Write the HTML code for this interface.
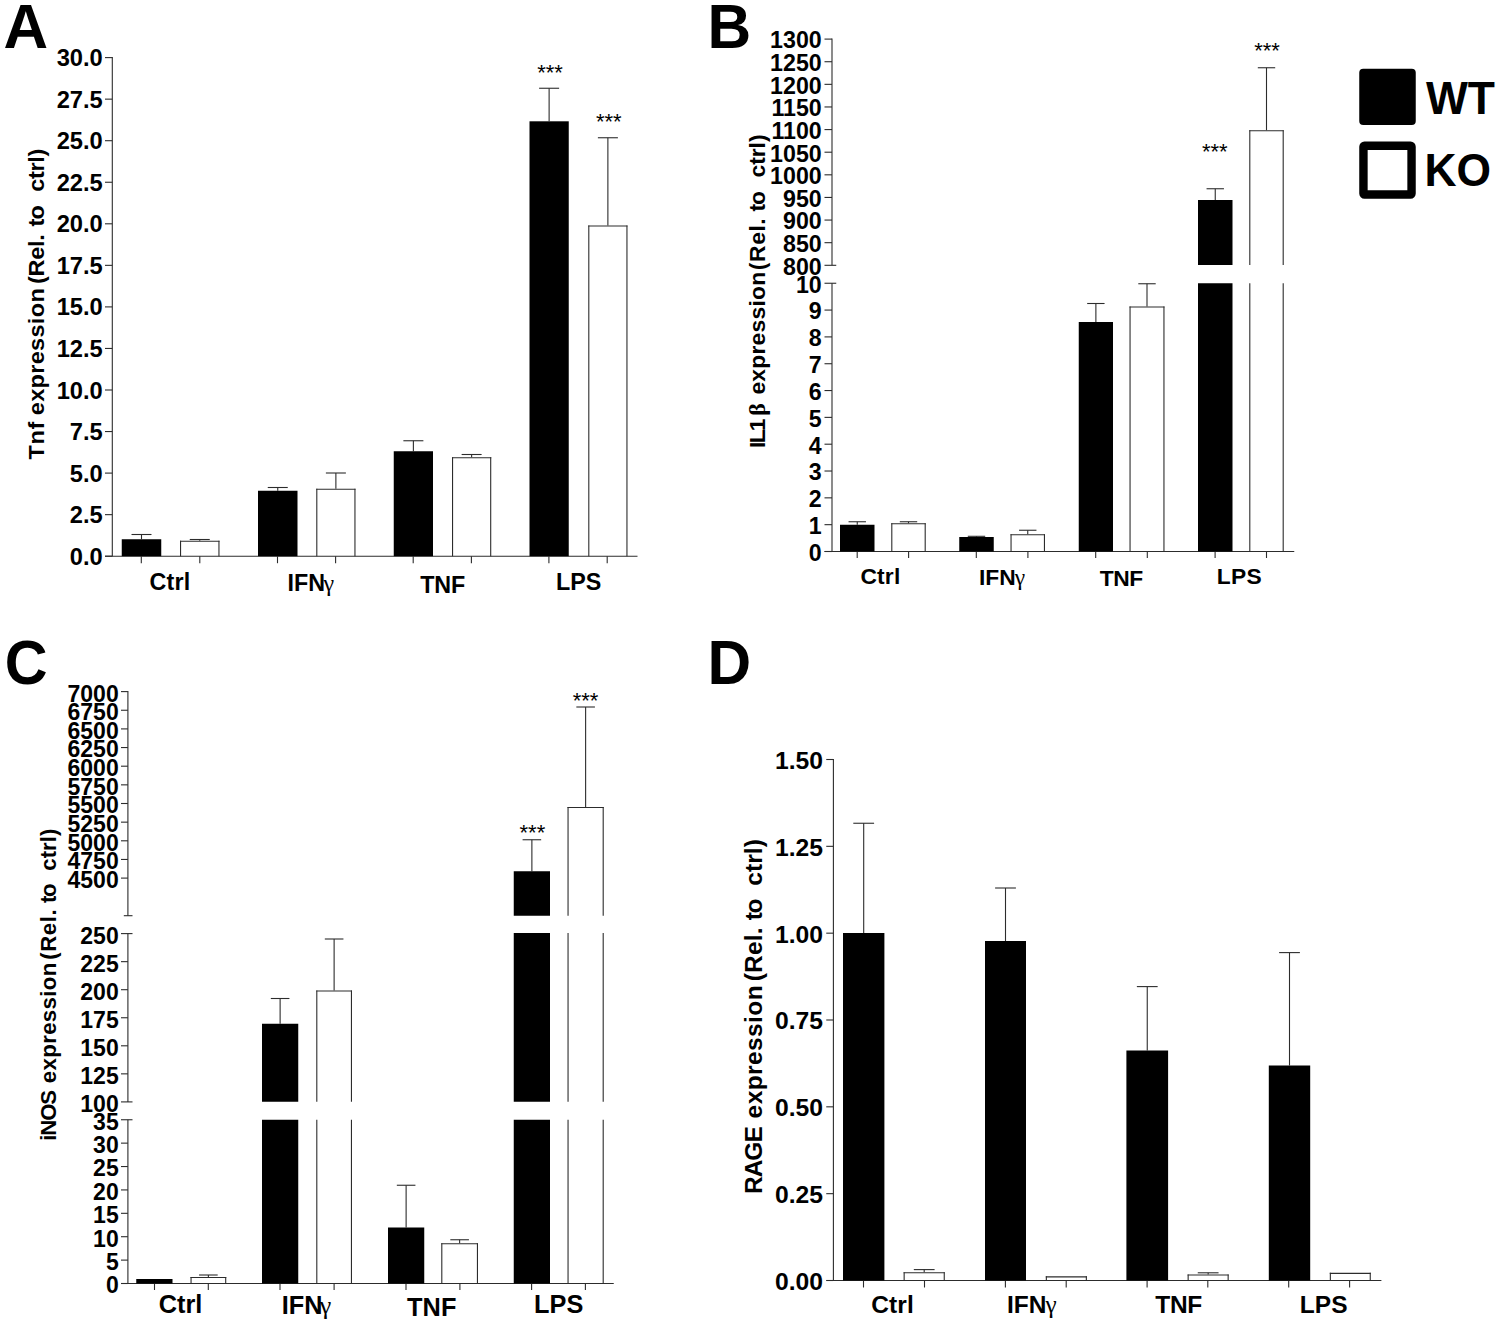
<!DOCTYPE html>
<html><head><meta charset="utf-8"><title>Figure</title>
<style>
html,body{margin:0;padding:0;background:#fff;}
body{width:1500px;height:1325px;overflow:hidden;font-family:"Liberation Sans",sans-serif;}
svg{display:block;}
svg text{font-family:"Liberation Sans",sans-serif;fill:#000;}
</style></head><body>
<svg width="1500" height="1325" viewBox="0 0 1500 1325">
<rect x="0" y="0" width="1500" height="1325" fill="#fff"/>
<text transform="translate(3.60,48.00) scale(0.97,1)" font-size="63.7" font-weight="bold">A</text>
<text transform="translate(707.60,48.20) scale(0.95,1)" font-size="63.7" font-weight="bold">B</text>
<text transform="translate(4.70,683.90) scale(0.93,1)" font-size="63.7" font-weight="bold">C</text>
<text transform="translate(707.60,683.90) scale(0.95,1)" font-size="63.7" font-weight="bold">D</text>
<line x1="112.30" y1="57.05" x2="112.30" y2="556.20" stroke="#2c2c2c" stroke-width="1.1"/>
<line x1="105.00" y1="57.60" x2="112.30" y2="57.60" stroke="#2c2c2c" stroke-width="1.1"/>
<text x="102.80" y="66.10" font-size="23.7" font-weight="bold" text-anchor="end" >30.0</text>
<line x1="105.00" y1="99.15" x2="112.30" y2="99.15" stroke="#2c2c2c" stroke-width="1.1"/>
<text x="102.80" y="107.65" font-size="23.7" font-weight="bold" text-anchor="end" >27.5</text>
<line x1="105.00" y1="140.70" x2="112.30" y2="140.70" stroke="#2c2c2c" stroke-width="1.1"/>
<text x="102.80" y="149.20" font-size="23.7" font-weight="bold" text-anchor="end" >25.0</text>
<line x1="105.00" y1="182.25" x2="112.30" y2="182.25" stroke="#2c2c2c" stroke-width="1.1"/>
<text x="102.80" y="190.75" font-size="23.7" font-weight="bold" text-anchor="end" >22.5</text>
<line x1="105.00" y1="223.80" x2="112.30" y2="223.80" stroke="#2c2c2c" stroke-width="1.1"/>
<text x="102.80" y="232.30" font-size="23.7" font-weight="bold" text-anchor="end" >20.0</text>
<line x1="105.00" y1="265.35" x2="112.30" y2="265.35" stroke="#2c2c2c" stroke-width="1.1"/>
<text x="102.80" y="273.85" font-size="23.7" font-weight="bold" text-anchor="end" >17.5</text>
<line x1="105.00" y1="306.90" x2="112.30" y2="306.90" stroke="#2c2c2c" stroke-width="1.1"/>
<text x="102.80" y="315.40" font-size="23.7" font-weight="bold" text-anchor="end" >15.0</text>
<line x1="105.00" y1="348.45" x2="112.30" y2="348.45" stroke="#2c2c2c" stroke-width="1.1"/>
<text x="102.80" y="356.95" font-size="23.7" font-weight="bold" text-anchor="end" >12.5</text>
<line x1="105.00" y1="390.00" x2="112.30" y2="390.00" stroke="#2c2c2c" stroke-width="1.1"/>
<text x="102.80" y="398.50" font-size="23.7" font-weight="bold" text-anchor="end" >10.0</text>
<line x1="105.00" y1="431.55" x2="112.30" y2="431.55" stroke="#2c2c2c" stroke-width="1.1"/>
<text x="102.80" y="440.05" font-size="23.7" font-weight="bold" text-anchor="end" >7.5</text>
<line x1="105.00" y1="473.10" x2="112.30" y2="473.10" stroke="#2c2c2c" stroke-width="1.1"/>
<text x="102.80" y="481.60" font-size="23.7" font-weight="bold" text-anchor="end" >5.0</text>
<line x1="105.00" y1="514.65" x2="112.30" y2="514.65" stroke="#2c2c2c" stroke-width="1.1"/>
<text x="102.80" y="523.15" font-size="23.7" font-weight="bold" text-anchor="end" >2.5</text>
<line x1="105.00" y1="556.20" x2="112.30" y2="556.20" stroke="#2c2c2c" stroke-width="1.1"/>
<text x="102.80" y="564.70" font-size="23.7" font-weight="bold" text-anchor="end" >0.0</text>
<line x1="105.00" y1="556.20" x2="637.50" y2="556.20" stroke="#2c2c2c" stroke-width="1.1"/>
<line x1="141.30" y1="556.20" x2="141.30" y2="563.20" stroke="#2c2c2c" stroke-width="1.1"/>
<line x1="199.80" y1="556.20" x2="199.80" y2="563.20" stroke="#2c2c2c" stroke-width="1.1"/>
<line x1="277.50" y1="556.20" x2="277.50" y2="563.20" stroke="#2c2c2c" stroke-width="1.1"/>
<line x1="335.60" y1="556.20" x2="335.60" y2="563.20" stroke="#2c2c2c" stroke-width="1.1"/>
<line x1="413.20" y1="556.20" x2="413.20" y2="563.20" stroke="#2c2c2c" stroke-width="1.1"/>
<line x1="471.40" y1="556.20" x2="471.40" y2="563.20" stroke="#2c2c2c" stroke-width="1.1"/>
<line x1="548.90" y1="556.20" x2="548.90" y2="563.20" stroke="#2c2c2c" stroke-width="1.1"/>
<line x1="607.20" y1="556.20" x2="607.20" y2="563.20" stroke="#2c2c2c" stroke-width="1.1"/>
<line x1="141.50" y1="534.50" x2="141.50" y2="539.25" stroke="#2c2c2c" stroke-width="1.1"/>
<line x1="131.50" y1="534.50" x2="151.50" y2="534.50" stroke="#2c2c2c" stroke-width="1.1"/>
<rect x="121.75" y="539.25" width="39.50" height="16.95" fill="#000"/>
<line x1="199.75" y1="539.50" x2="199.75" y2="540.75" stroke="#2c2c2c" stroke-width="1.1"/>
<line x1="189.75" y1="539.50" x2="209.75" y2="539.50" stroke="#2c2c2c" stroke-width="1.1"/>
<line x1="180.00" y1="541.30" x2="219.50" y2="541.30" stroke="#2c2c2c" stroke-width="1.1"/>
<line x1="180.55" y1="540.75" x2="180.55" y2="556.20" stroke="#2c2c2c" stroke-width="1.1"/>
<line x1="218.95" y1="540.75" x2="218.95" y2="556.20" stroke="#2c2c2c" stroke-width="1.1"/>
<line x1="277.75" y1="487.50" x2="277.75" y2="490.75" stroke="#2c2c2c" stroke-width="1.1"/>
<line x1="267.75" y1="487.50" x2="287.75" y2="487.50" stroke="#2c2c2c" stroke-width="1.1"/>
<rect x="258.00" y="490.75" width="39.50" height="65.45" fill="#000"/>
<line x1="335.88" y1="473.00" x2="335.88" y2="488.75" stroke="#2c2c2c" stroke-width="1.1"/>
<line x1="325.88" y1="473.00" x2="345.88" y2="473.00" stroke="#2c2c2c" stroke-width="1.1"/>
<line x1="316.25" y1="489.30" x2="355.50" y2="489.30" stroke="#2c2c2c" stroke-width="1.1"/>
<line x1="316.80" y1="488.75" x2="316.80" y2="556.20" stroke="#2c2c2c" stroke-width="1.1"/>
<line x1="354.95" y1="488.75" x2="354.95" y2="556.20" stroke="#2c2c2c" stroke-width="1.1"/>
<line x1="413.38" y1="440.75" x2="413.38" y2="451.25" stroke="#2c2c2c" stroke-width="1.1"/>
<line x1="403.38" y1="440.75" x2="423.38" y2="440.75" stroke="#2c2c2c" stroke-width="1.1"/>
<rect x="393.75" y="451.25" width="39.25" height="104.95" fill="#000"/>
<line x1="471.62" y1="454.50" x2="471.62" y2="457.25" stroke="#2c2c2c" stroke-width="1.1"/>
<line x1="461.62" y1="454.50" x2="481.62" y2="454.50" stroke="#2c2c2c" stroke-width="1.1"/>
<line x1="452.00" y1="457.80" x2="491.25" y2="457.80" stroke="#2c2c2c" stroke-width="1.1"/>
<line x1="452.55" y1="457.25" x2="452.55" y2="556.20" stroke="#2c2c2c" stroke-width="1.1"/>
<line x1="490.70" y1="457.25" x2="490.70" y2="556.20" stroke="#2c2c2c" stroke-width="1.1"/>
<line x1="549.12" y1="88.25" x2="549.12" y2="121.30" stroke="#2c2c2c" stroke-width="1.1"/>
<line x1="539.12" y1="88.25" x2="559.12" y2="88.25" stroke="#2c2c2c" stroke-width="1.1"/>
<rect x="529.50" y="121.30" width="39.25" height="434.90" fill="#000"/>
<line x1="607.88" y1="137.75" x2="607.88" y2="225.50" stroke="#2c2c2c" stroke-width="1.1"/>
<line x1="597.88" y1="137.75" x2="617.88" y2="137.75" stroke="#2c2c2c" stroke-width="1.1"/>
<line x1="588.25" y1="226.05" x2="627.50" y2="226.05" stroke="#2c2c2c" stroke-width="1.1"/>
<line x1="588.80" y1="225.50" x2="588.80" y2="556.20" stroke="#2c2c2c" stroke-width="1.1"/>
<line x1="626.95" y1="225.50" x2="626.95" y2="556.20" stroke="#2c2c2c" stroke-width="1.1"/>
<text x="550.10" y="79.80" font-size="22" font-weight="normal" text-anchor="middle" >***</text>
<text x="608.80" y="128.80" font-size="22" font-weight="normal" text-anchor="middle" >***</text>
<text x="149.57" y="589.70" font-size="23.3" font-weight="bold" letter-spacing="0.196" >Ctrl</text>
<text x="287.47" y="590.80" font-size="23.3" font-weight="bold" letter-spacing="0.000" >IFN</text>
<text x="323.42" y="590.80" font-size="24.00" font-family="Liberation Serif, serif" style="font-family:'Liberation Serif',serif">γ</text>
<text x="420.27" y="592.50" font-size="23.3" font-weight="bold" letter-spacing="-0.135" >TNF</text>
<text x="556.07" y="589.70" font-size="23.3" font-weight="bold" letter-spacing="-0.019" >LPS</text>
<text transform="translate(43.70,459.44) rotate(-90) scale(1.0526,1)" font-size="22.32" letter-spacing="0.558" font-weight="bold">Tnf</text>
<text transform="translate(43.70,415.24) rotate(-90) scale(1.0526,1)" font-size="22.32" letter-spacing="0.314" font-weight="bold">expression</text>
<text transform="translate(43.70,283.88) rotate(-90) scale(1.0526,1)" font-size="22.32" letter-spacing="-0.303" font-weight="bold">(Rel.</text>
<text transform="translate(43.70,226.53) rotate(-90) scale(1.0526,1)" font-size="22.32" letter-spacing="-0.774" font-weight="bold">to</text>
<text transform="translate(43.70,191.84) rotate(-90) scale(1.0526,1)" font-size="22.32" letter-spacing="-0.285" font-weight="bold">ctrl)</text>
<line x1="832.00" y1="38.55" x2="832.00" y2="265.30" stroke="#2c2c2c" stroke-width="1.1"/>
<line x1="824.50" y1="39.10" x2="832.00" y2="39.10" stroke="#2c2c2c" stroke-width="1.1"/>
<text x="821.70" y="48.40" font-size="23.2" font-weight="bold" text-anchor="end" >1300</text>
<line x1="824.50" y1="61.72" x2="832.00" y2="61.72" stroke="#2c2c2c" stroke-width="1.1"/>
<text x="821.70" y="71.02" font-size="23.2" font-weight="bold" text-anchor="end" >1250</text>
<line x1="824.50" y1="84.34" x2="832.00" y2="84.34" stroke="#2c2c2c" stroke-width="1.1"/>
<text x="821.70" y="93.64" font-size="23.2" font-weight="bold" text-anchor="end" >1200</text>
<line x1="824.50" y1="106.96" x2="832.00" y2="106.96" stroke="#2c2c2c" stroke-width="1.1"/>
<text x="821.70" y="116.26" font-size="23.2" font-weight="bold" text-anchor="end" >1150</text>
<line x1="824.50" y1="129.58" x2="832.00" y2="129.58" stroke="#2c2c2c" stroke-width="1.1"/>
<text x="821.70" y="138.88" font-size="23.2" font-weight="bold" text-anchor="end" >1100</text>
<line x1="824.50" y1="152.20" x2="832.00" y2="152.20" stroke="#2c2c2c" stroke-width="1.1"/>
<text x="821.70" y="161.50" font-size="23.2" font-weight="bold" text-anchor="end" >1050</text>
<line x1="824.50" y1="174.82" x2="832.00" y2="174.82" stroke="#2c2c2c" stroke-width="1.1"/>
<text x="821.70" y="184.12" font-size="23.2" font-weight="bold" text-anchor="end" >1000</text>
<line x1="824.50" y1="197.44" x2="832.00" y2="197.44" stroke="#2c2c2c" stroke-width="1.1"/>
<text x="821.70" y="206.74" font-size="23.2" font-weight="bold" text-anchor="end" >950</text>
<line x1="824.50" y1="220.06" x2="832.00" y2="220.06" stroke="#2c2c2c" stroke-width="1.1"/>
<text x="821.70" y="229.36" font-size="23.2" font-weight="bold" text-anchor="end" >900</text>
<line x1="824.50" y1="242.68" x2="832.00" y2="242.68" stroke="#2c2c2c" stroke-width="1.1"/>
<text x="821.70" y="251.98" font-size="23.2" font-weight="bold" text-anchor="end" >850</text>
<line x1="824.50" y1="265.30" x2="836.25" y2="265.30" stroke="#2c2c2c" stroke-width="1.1"/>
<text x="821.70" y="274.60" font-size="23.2" font-weight="bold" text-anchor="end" >800</text>
<line x1="832.00" y1="283.25" x2="832.00" y2="551.50" stroke="#2c2c2c" stroke-width="1.1"/>
<line x1="824.50" y1="283.25" x2="836.25" y2="283.25" stroke="#2c2c2c" stroke-width="1.1"/>
<text x="821.70" y="292.55" font-size="23.2" font-weight="bold" text-anchor="end" >10</text>
<line x1="824.50" y1="310.07" x2="832.00" y2="310.07" stroke="#2c2c2c" stroke-width="1.1"/>
<text x="821.70" y="319.38" font-size="23.2" font-weight="bold" text-anchor="end" >9</text>
<line x1="824.50" y1="336.90" x2="832.00" y2="336.90" stroke="#2c2c2c" stroke-width="1.1"/>
<text x="821.70" y="346.20" font-size="23.2" font-weight="bold" text-anchor="end" >8</text>
<line x1="824.50" y1="363.73" x2="832.00" y2="363.73" stroke="#2c2c2c" stroke-width="1.1"/>
<text x="821.70" y="373.03" font-size="23.2" font-weight="bold" text-anchor="end" >7</text>
<line x1="824.50" y1="390.55" x2="832.00" y2="390.55" stroke="#2c2c2c" stroke-width="1.1"/>
<text x="821.70" y="399.85" font-size="23.2" font-weight="bold" text-anchor="end" >6</text>
<line x1="824.50" y1="417.38" x2="832.00" y2="417.38" stroke="#2c2c2c" stroke-width="1.1"/>
<text x="821.70" y="426.68" font-size="23.2" font-weight="bold" text-anchor="end" >5</text>
<line x1="824.50" y1="444.20" x2="832.00" y2="444.20" stroke="#2c2c2c" stroke-width="1.1"/>
<text x="821.70" y="453.50" font-size="23.2" font-weight="bold" text-anchor="end" >4</text>
<line x1="824.50" y1="471.02" x2="832.00" y2="471.02" stroke="#2c2c2c" stroke-width="1.1"/>
<text x="821.70" y="480.32" font-size="23.2" font-weight="bold" text-anchor="end" >3</text>
<line x1="824.50" y1="497.85" x2="832.00" y2="497.85" stroke="#2c2c2c" stroke-width="1.1"/>
<text x="821.70" y="507.15" font-size="23.2" font-weight="bold" text-anchor="end" >2</text>
<line x1="824.50" y1="524.67" x2="832.00" y2="524.67" stroke="#2c2c2c" stroke-width="1.1"/>
<text x="821.70" y="533.97" font-size="23.2" font-weight="bold" text-anchor="end" >1</text>
<line x1="824.50" y1="551.50" x2="832.00" y2="551.50" stroke="#2c2c2c" stroke-width="1.1"/>
<text x="821.70" y="560.80" font-size="23.2" font-weight="bold" text-anchor="end" >0</text>
<line x1="824.50" y1="551.50" x2="1294.25" y2="551.50" stroke="#2c2c2c" stroke-width="1.1"/>
<line x1="857.20" y1="551.50" x2="857.20" y2="558.00" stroke="#2c2c2c" stroke-width="1.1"/>
<line x1="908.60" y1="551.50" x2="908.60" y2="558.00" stroke="#2c2c2c" stroke-width="1.1"/>
<line x1="976.30" y1="551.50" x2="976.30" y2="558.00" stroke="#2c2c2c" stroke-width="1.1"/>
<line x1="1027.90" y1="551.50" x2="1027.90" y2="558.00" stroke="#2c2c2c" stroke-width="1.1"/>
<line x1="1095.70" y1="551.50" x2="1095.70" y2="558.00" stroke="#2c2c2c" stroke-width="1.1"/>
<line x1="1147.30" y1="551.50" x2="1147.30" y2="558.00" stroke="#2c2c2c" stroke-width="1.1"/>
<line x1="1215.10" y1="551.50" x2="1215.10" y2="558.00" stroke="#2c2c2c" stroke-width="1.1"/>
<line x1="1266.50" y1="551.50" x2="1266.50" y2="558.00" stroke="#2c2c2c" stroke-width="1.1"/>
<line x1="857.25" y1="521.75" x2="857.25" y2="524.75" stroke="#2c2c2c" stroke-width="1.1"/>
<line x1="848.55" y1="521.75" x2="865.95" y2="521.75" stroke="#2c2c2c" stroke-width="1.1"/>
<rect x="840.00" y="524.75" width="34.50" height="26.75" fill="#000"/>
<line x1="908.50" y1="521.75" x2="908.50" y2="523.25" stroke="#2c2c2c" stroke-width="1.1"/>
<line x1="899.80" y1="521.75" x2="917.20" y2="521.75" stroke="#2c2c2c" stroke-width="1.1"/>
<line x1="891.25" y1="523.80" x2="925.75" y2="523.80" stroke="#2c2c2c" stroke-width="1.1"/>
<line x1="891.80" y1="523.25" x2="891.80" y2="551.50" stroke="#2c2c2c" stroke-width="1.1"/>
<line x1="925.20" y1="523.25" x2="925.20" y2="551.50" stroke="#2c2c2c" stroke-width="1.1"/>
<line x1="976.50" y1="536.30" x2="976.50" y2="537.00" stroke="#2c2c2c" stroke-width="1.1"/>
<line x1="967.80" y1="536.30" x2="985.20" y2="536.30" stroke="#2c2c2c" stroke-width="1.1"/>
<rect x="959.25" y="537.00" width="34.50" height="14.50" fill="#000"/>
<line x1="1027.75" y1="530.25" x2="1027.75" y2="534.25" stroke="#2c2c2c" stroke-width="1.1"/>
<line x1="1019.05" y1="530.25" x2="1036.45" y2="530.25" stroke="#2c2c2c" stroke-width="1.1"/>
<line x1="1010.50" y1="534.80" x2="1045.00" y2="534.80" stroke="#2c2c2c" stroke-width="1.1"/>
<line x1="1011.05" y1="534.25" x2="1011.05" y2="551.50" stroke="#2c2c2c" stroke-width="1.1"/>
<line x1="1044.45" y1="534.25" x2="1044.45" y2="551.50" stroke="#2c2c2c" stroke-width="1.1"/>
<line x1="1095.88" y1="303.50" x2="1095.88" y2="322.00" stroke="#2c2c2c" stroke-width="1.1"/>
<line x1="1087.17" y1="303.50" x2="1104.58" y2="303.50" stroke="#2c2c2c" stroke-width="1.1"/>
<rect x="1078.75" y="322.00" width="34.25" height="229.50" fill="#000"/>
<line x1="1147.00" y1="283.75" x2="1147.00" y2="306.50" stroke="#2c2c2c" stroke-width="1.1"/>
<line x1="1138.30" y1="283.75" x2="1155.70" y2="283.75" stroke="#2c2c2c" stroke-width="1.1"/>
<line x1="1129.50" y1="307.05" x2="1164.50" y2="307.05" stroke="#2c2c2c" stroke-width="1.1"/>
<line x1="1130.05" y1="306.50" x2="1130.05" y2="551.50" stroke="#2c2c2c" stroke-width="1.1"/>
<line x1="1163.95" y1="306.50" x2="1163.95" y2="551.50" stroke="#2c2c2c" stroke-width="1.1"/>
<line x1="1215.25" y1="188.75" x2="1215.25" y2="200.00" stroke="#2c2c2c" stroke-width="1.1"/>
<line x1="1206.55" y1="188.75" x2="1223.95" y2="188.75" stroke="#2c2c2c" stroke-width="1.1"/>
<rect x="1198.00" y="200.00" width="34.50" height="65.00" fill="#000"/>
<rect x="1198.00" y="283.25" width="34.50" height="268.25" fill="#000"/>
<line x1="1266.50" y1="67.75" x2="1266.50" y2="130.25" stroke="#2c2c2c" stroke-width="1.1"/>
<line x1="1257.80" y1="67.75" x2="1275.20" y2="67.75" stroke="#2c2c2c" stroke-width="1.1"/>
<line x1="1249.25" y1="130.80" x2="1283.75" y2="130.80" stroke="#2c2c2c" stroke-width="1.1"/>
<line x1="1249.80" y1="130.25" x2="1249.80" y2="265.00" stroke="#2c2c2c" stroke-width="1.1"/>
<line x1="1283.20" y1="130.25" x2="1283.20" y2="265.00" stroke="#2c2c2c" stroke-width="1.1"/>
<line x1="1249.80" y1="283.25" x2="1249.80" y2="551.50" stroke="#2c2c2c" stroke-width="1.1"/>
<line x1="1283.20" y1="283.25" x2="1283.20" y2="551.50" stroke="#2c2c2c" stroke-width="1.1"/>
<text x="1214.80" y="159.00" font-size="22" font-weight="normal" text-anchor="middle" >***</text>
<text x="1267.00" y="58.00" font-size="22" font-weight="normal" text-anchor="middle" >***</text>
<text x="860.39" y="584.10" font-size="22.8" font-weight="bold" letter-spacing="0.197" >Ctrl</text>
<text x="979.00" y="585.10" font-size="22.8" font-weight="bold" letter-spacing="0.000" >IFN</text>
<text x="1014.74" y="585.10" font-size="23.48" font-family="Liberation Serif, serif" style="font-family:'Liberation Serif',serif">γ</text>
<text x="1099.87" y="585.80" font-size="22.8" font-weight="bold" letter-spacing="-0.560" >TNF</text>
<text x="1216.80" y="584.40" font-size="22.8" font-weight="bold" letter-spacing="0.238" >LPS</text>
<text transform="translate(764.90,447.90) rotate(-90) scale(1.0526,1)" font-size="21.75" letter-spacing="-1.717" font-weight="bold">IL1</text>
<text transform="translate(764.90,415.73) rotate(-90) scale(1.0000,1)" font-size="23.90" letter-spacing="0.000" style="font-family:'Liberation Serif',serif" font-weight="bold">β</text>
<text transform="translate(764.90,394.62) rotate(-90) scale(1.0526,1)" font-size="21.75" letter-spacing="0.219" font-weight="bold">expression</text>
<text transform="translate(764.90,270.14) rotate(-90) scale(1.0526,1)" font-size="21.75" letter-spacing="0.536" font-weight="bold">(Rel.</text>
<text transform="translate(764.90,211.53) rotate(-90) scale(1.0526,1)" font-size="21.75" letter-spacing="-0.932" font-weight="bold">to</text>
<text transform="translate(764.90,177.57) rotate(-90) scale(1.0526,1)" font-size="21.75" letter-spacing="-0.017" font-weight="bold">ctrl)</text>
<rect x="1359.25" y="68.75" width="56.5" height="56.3" rx="4" fill="#000"/>
<rect x="1363.45" y="145.75" width="48.1" height="48.7" rx="1" fill="#fff" stroke="#000" stroke-width="8.4" stroke-linejoin="round"/>
<text transform="translate(1425.90,114.30) scale(0.955,1)" font-size="46.5" font-weight="bold">WT</text>
<text transform="translate(1424.40,185.90) scale(0.955,1)" font-size="46.5" font-weight="bold">KO</text>
<line x1="127.90" y1="691.05" x2="127.90" y2="915.70" stroke="#2c2c2c" stroke-width="1.1"/>
<line x1="121.00" y1="691.60" x2="127.90" y2="691.60" stroke="#2c2c2c" stroke-width="1.1"/>
<text x="118.70" y="701.50" font-size="23" font-weight="bold" text-anchor="end" >7000</text>
<line x1="121.00" y1="710.25" x2="127.90" y2="710.25" stroke="#2c2c2c" stroke-width="1.1"/>
<text x="118.70" y="720.15" font-size="23" font-weight="bold" text-anchor="end" >6750</text>
<line x1="121.00" y1="728.90" x2="127.90" y2="728.90" stroke="#2c2c2c" stroke-width="1.1"/>
<text x="118.70" y="738.80" font-size="23" font-weight="bold" text-anchor="end" >6500</text>
<line x1="121.00" y1="747.55" x2="127.90" y2="747.55" stroke="#2c2c2c" stroke-width="1.1"/>
<text x="118.70" y="757.45" font-size="23" font-weight="bold" text-anchor="end" >6250</text>
<line x1="121.00" y1="766.20" x2="127.90" y2="766.20" stroke="#2c2c2c" stroke-width="1.1"/>
<text x="118.70" y="776.10" font-size="23" font-weight="bold" text-anchor="end" >6000</text>
<line x1="121.00" y1="784.85" x2="127.90" y2="784.85" stroke="#2c2c2c" stroke-width="1.1"/>
<text x="118.70" y="794.75" font-size="23" font-weight="bold" text-anchor="end" >5750</text>
<line x1="121.00" y1="803.50" x2="127.90" y2="803.50" stroke="#2c2c2c" stroke-width="1.1"/>
<text x="118.70" y="813.40" font-size="23" font-weight="bold" text-anchor="end" >5500</text>
<line x1="121.00" y1="822.15" x2="127.90" y2="822.15" stroke="#2c2c2c" stroke-width="1.1"/>
<text x="118.70" y="832.05" font-size="23" font-weight="bold" text-anchor="end" >5250</text>
<line x1="121.00" y1="840.80" x2="127.90" y2="840.80" stroke="#2c2c2c" stroke-width="1.1"/>
<text x="118.70" y="850.70" font-size="23" font-weight="bold" text-anchor="end" >5000</text>
<line x1="121.00" y1="859.45" x2="127.90" y2="859.45" stroke="#2c2c2c" stroke-width="1.1"/>
<text x="118.70" y="869.35" font-size="23" font-weight="bold" text-anchor="end" >4750</text>
<line x1="121.00" y1="878.10" x2="127.90" y2="878.10" stroke="#2c2c2c" stroke-width="1.1"/>
<text x="118.70" y="888.00" font-size="23" font-weight="bold" text-anchor="end" >4500</text>
<line x1="123.80" y1="915.70" x2="132.50" y2="915.70" stroke="#2c2c2c" stroke-width="1.1"/>
<line x1="127.90" y1="933.60" x2="127.90" y2="1101.90" stroke="#2c2c2c" stroke-width="1.1"/>
<line x1="121.00" y1="933.60" x2="132.50" y2="933.60" stroke="#2c2c2c" stroke-width="1.1"/>
<text x="118.70" y="943.50" font-size="23" font-weight="bold" text-anchor="end" >250</text>
<line x1="121.00" y1="961.65" x2="127.90" y2="961.65" stroke="#2c2c2c" stroke-width="1.1"/>
<text x="118.70" y="971.55" font-size="23" font-weight="bold" text-anchor="end" >225</text>
<line x1="121.00" y1="989.70" x2="127.90" y2="989.70" stroke="#2c2c2c" stroke-width="1.1"/>
<text x="118.70" y="999.60" font-size="23" font-weight="bold" text-anchor="end" >200</text>
<line x1="121.00" y1="1017.75" x2="127.90" y2="1017.75" stroke="#2c2c2c" stroke-width="1.1"/>
<text x="118.70" y="1027.65" font-size="23" font-weight="bold" text-anchor="end" >175</text>
<line x1="121.00" y1="1045.80" x2="127.90" y2="1045.80" stroke="#2c2c2c" stroke-width="1.1"/>
<text x="118.70" y="1055.70" font-size="23" font-weight="bold" text-anchor="end" >150</text>
<line x1="121.00" y1="1073.85" x2="127.90" y2="1073.85" stroke="#2c2c2c" stroke-width="1.1"/>
<text x="118.70" y="1083.75" font-size="23" font-weight="bold" text-anchor="end" >125</text>
<line x1="121.00" y1="1101.90" x2="132.50" y2="1101.90" stroke="#2c2c2c" stroke-width="1.1"/>
<text x="118.70" y="1111.80" font-size="23" font-weight="bold" text-anchor="end" >100</text>
<line x1="127.90" y1="1119.75" x2="127.90" y2="1283.50" stroke="#2c2c2c" stroke-width="1.1"/>
<line x1="121.00" y1="1119.75" x2="132.50" y2="1119.75" stroke="#2c2c2c" stroke-width="1.1"/>
<text x="118.70" y="1129.65" font-size="23" font-weight="bold" text-anchor="end" >35</text>
<line x1="121.00" y1="1143.14" x2="127.90" y2="1143.14" stroke="#2c2c2c" stroke-width="1.1"/>
<text x="118.70" y="1153.04" font-size="23" font-weight="bold" text-anchor="end" >30</text>
<line x1="121.00" y1="1166.54" x2="127.90" y2="1166.54" stroke="#2c2c2c" stroke-width="1.1"/>
<text x="118.70" y="1176.44" font-size="23" font-weight="bold" text-anchor="end" >25</text>
<line x1="121.00" y1="1189.93" x2="127.90" y2="1189.93" stroke="#2c2c2c" stroke-width="1.1"/>
<text x="118.70" y="1199.83" font-size="23" font-weight="bold" text-anchor="end" >20</text>
<line x1="121.00" y1="1213.32" x2="127.90" y2="1213.32" stroke="#2c2c2c" stroke-width="1.1"/>
<text x="118.70" y="1223.22" font-size="23" font-weight="bold" text-anchor="end" >15</text>
<line x1="121.00" y1="1236.71" x2="127.90" y2="1236.71" stroke="#2c2c2c" stroke-width="1.1"/>
<text x="118.70" y="1246.61" font-size="23" font-weight="bold" text-anchor="end" >10</text>
<line x1="121.00" y1="1260.11" x2="127.90" y2="1260.11" stroke="#2c2c2c" stroke-width="1.1"/>
<text x="118.70" y="1270.01" font-size="23" font-weight="bold" text-anchor="end" >5</text>
<line x1="121.00" y1="1283.50" x2="127.90" y2="1283.50" stroke="#2c2c2c" stroke-width="1.1"/>
<text x="118.70" y="1293.40" font-size="23" font-weight="bold" text-anchor="end" >0</text>
<line x1="121.00" y1="1283.50" x2="613.75" y2="1283.50" stroke="#2c2c2c" stroke-width="1.1"/>
<line x1="154.50" y1="1283.50" x2="154.50" y2="1290.00" stroke="#2c2c2c" stroke-width="1.1"/>
<line x1="208.30" y1="1283.50" x2="208.30" y2="1290.00" stroke="#2c2c2c" stroke-width="1.1"/>
<line x1="280.00" y1="1283.50" x2="280.00" y2="1290.00" stroke="#2c2c2c" stroke-width="1.1"/>
<line x1="334.10" y1="1283.50" x2="334.10" y2="1290.00" stroke="#2c2c2c" stroke-width="1.1"/>
<line x1="406.00" y1="1283.50" x2="406.00" y2="1290.00" stroke="#2c2c2c" stroke-width="1.1"/>
<line x1="459.90" y1="1283.50" x2="459.90" y2="1290.00" stroke="#2c2c2c" stroke-width="1.1"/>
<line x1="531.60" y1="1283.50" x2="531.60" y2="1290.00" stroke="#2c2c2c" stroke-width="1.1"/>
<line x1="585.40" y1="1283.50" x2="585.40" y2="1290.00" stroke="#2c2c2c" stroke-width="1.1"/>
<rect x="136.25" y="1279.00" width="36.25" height="4.50" fill="#000"/>
<line x1="208.38" y1="1275.00" x2="208.38" y2="1277.00" stroke="#2c2c2c" stroke-width="1.1"/>
<line x1="199.07" y1="1275.00" x2="217.68" y2="1275.00" stroke="#2c2c2c" stroke-width="1.1"/>
<line x1="190.50" y1="1277.55" x2="226.25" y2="1277.55" stroke="#2c2c2c" stroke-width="1.1"/>
<line x1="191.05" y1="1277.00" x2="191.05" y2="1283.50" stroke="#2c2c2c" stroke-width="1.1"/>
<line x1="225.70" y1="1277.00" x2="225.70" y2="1283.50" stroke="#2c2c2c" stroke-width="1.1"/>
<line x1="280.12" y1="998.50" x2="280.12" y2="1023.75" stroke="#2c2c2c" stroke-width="1.1"/>
<line x1="270.82" y1="998.50" x2="289.43" y2="998.50" stroke="#2c2c2c" stroke-width="1.1"/>
<rect x="262.00" y="1023.75" width="36.25" height="78.00" fill="#000"/>
<rect x="262.00" y="1119.75" width="36.25" height="163.75" fill="#000"/>
<line x1="334.12" y1="939.00" x2="334.12" y2="990.50" stroke="#2c2c2c" stroke-width="1.1"/>
<line x1="324.82" y1="939.00" x2="343.43" y2="939.00" stroke="#2c2c2c" stroke-width="1.1"/>
<line x1="316.25" y1="991.05" x2="352.00" y2="991.05" stroke="#2c2c2c" stroke-width="1.1"/>
<line x1="316.80" y1="990.50" x2="316.80" y2="1101.75" stroke="#2c2c2c" stroke-width="1.1"/>
<line x1="351.45" y1="990.50" x2="351.45" y2="1101.75" stroke="#2c2c2c" stroke-width="1.1"/>
<line x1="316.80" y1="1119.75" x2="316.80" y2="1283.50" stroke="#2c2c2c" stroke-width="1.1"/>
<line x1="351.45" y1="1119.75" x2="351.45" y2="1283.50" stroke="#2c2c2c" stroke-width="1.1"/>
<line x1="406.12" y1="1185.25" x2="406.12" y2="1227.50" stroke="#2c2c2c" stroke-width="1.1"/>
<line x1="396.82" y1="1185.25" x2="415.43" y2="1185.25" stroke="#2c2c2c" stroke-width="1.1"/>
<rect x="388.00" y="1227.50" width="36.25" height="56.00" fill="#000"/>
<line x1="459.62" y1="1239.75" x2="459.62" y2="1243.25" stroke="#2c2c2c" stroke-width="1.1"/>
<line x1="450.32" y1="1239.75" x2="468.93" y2="1239.75" stroke="#2c2c2c" stroke-width="1.1"/>
<line x1="441.25" y1="1243.80" x2="478.00" y2="1243.80" stroke="#2c2c2c" stroke-width="1.1"/>
<line x1="441.80" y1="1243.25" x2="441.80" y2="1283.50" stroke="#2c2c2c" stroke-width="1.1"/>
<line x1="477.45" y1="1243.25" x2="477.45" y2="1283.50" stroke="#2c2c2c" stroke-width="1.1"/>
<line x1="531.88" y1="839.75" x2="531.88" y2="871.25" stroke="#2c2c2c" stroke-width="1.1"/>
<line x1="522.58" y1="839.75" x2="541.17" y2="839.75" stroke="#2c2c2c" stroke-width="1.1"/>
<rect x="513.75" y="871.25" width="36.25" height="44.50" fill="#000"/>
<rect x="513.75" y="933.00" width="36.25" height="168.75" fill="#000"/>
<rect x="513.75" y="1119.75" width="36.25" height="163.75" fill="#000"/>
<line x1="585.62" y1="707.00" x2="585.62" y2="807.00" stroke="#2c2c2c" stroke-width="1.1"/>
<line x1="576.33" y1="707.00" x2="594.92" y2="707.00" stroke="#2c2c2c" stroke-width="1.1"/>
<line x1="567.50" y1="807.55" x2="603.75" y2="807.55" stroke="#2c2c2c" stroke-width="1.1"/>
<line x1="568.05" y1="807.00" x2="568.05" y2="915.75" stroke="#2c2c2c" stroke-width="1.1"/>
<line x1="603.20" y1="807.00" x2="603.20" y2="915.75" stroke="#2c2c2c" stroke-width="1.1"/>
<line x1="568.05" y1="933.00" x2="568.05" y2="1101.75" stroke="#2c2c2c" stroke-width="1.1"/>
<line x1="603.20" y1="933.00" x2="603.20" y2="1101.75" stroke="#2c2c2c" stroke-width="1.1"/>
<line x1="568.05" y1="1119.75" x2="568.05" y2="1283.50" stroke="#2c2c2c" stroke-width="1.1"/>
<line x1="603.20" y1="1119.75" x2="603.20" y2="1283.50" stroke="#2c2c2c" stroke-width="1.1"/>
<text x="532.40" y="840.00" font-size="22" font-weight="normal" text-anchor="middle" >***</text>
<text x="585.60" y="708.00" font-size="22" font-weight="normal" text-anchor="middle" >***</text>
<text x="158.69" y="1312.70" font-size="25.3" font-weight="bold" letter-spacing="0.022" >Ctrl</text>
<text x="281.83" y="1313.80" font-size="25.3" font-weight="bold" letter-spacing="0.000" >IFN</text>
<text x="319.76" y="1313.80" font-size="26.06" font-family="Liberation Serif, serif" style="font-family:'Liberation Serif',serif">γ</text>
<text x="407.05" y="1315.80" font-size="25.3" font-weight="bold" letter-spacing="0.065" >TNF</text>
<text x="534.03" y="1313.10" font-size="25.3" font-weight="bold" letter-spacing="0.051" >LPS</text>
<text transform="translate(55.70,1140.85) rotate(-90) scale(1.0204,1)" font-size="21.76" letter-spacing="-1.054" font-weight="bold">iNOS</text>
<text transform="translate(55.70,1083.19) rotate(-90) scale(1.0204,1)" font-size="21.76" letter-spacing="0.360" font-weight="bold">expression</text>
<text transform="translate(55.70,959.81) rotate(-90) scale(1.0204,1)" font-size="21.76" letter-spacing="0.586" font-weight="bold">(Rel.</text>
<text transform="translate(55.70,903.12) rotate(-90) scale(1.0204,1)" font-size="21.76" letter-spacing="-1.331" font-weight="bold">to</text>
<text transform="translate(55.70,870.79) rotate(-90) scale(1.0204,1)" font-size="21.76" letter-spacing="0.083" font-weight="bold">ctrl)</text>
<line x1="833.40" y1="758.95" x2="833.40" y2="1280.50" stroke="#2c2c2c" stroke-width="1.1"/>
<line x1="826.25" y1="759.50" x2="833.40" y2="759.50" stroke="#2c2c2c" stroke-width="1.1"/>
<text x="823.10" y="768.90" font-size="24.7" font-weight="bold" text-anchor="end" >1.50</text>
<line x1="826.25" y1="846.33" x2="833.40" y2="846.33" stroke="#2c2c2c" stroke-width="1.1"/>
<text x="823.10" y="855.73" font-size="24.7" font-weight="bold" text-anchor="end" >1.25</text>
<line x1="826.25" y1="933.17" x2="833.40" y2="933.17" stroke="#2c2c2c" stroke-width="1.1"/>
<text x="823.10" y="942.57" font-size="24.7" font-weight="bold" text-anchor="end" >1.00</text>
<line x1="826.25" y1="1020.00" x2="833.40" y2="1020.00" stroke="#2c2c2c" stroke-width="1.1"/>
<text x="823.10" y="1029.40" font-size="24.7" font-weight="bold" text-anchor="end" >0.75</text>
<line x1="826.25" y1="1106.83" x2="833.40" y2="1106.83" stroke="#2c2c2c" stroke-width="1.1"/>
<text x="823.10" y="1116.23" font-size="24.7" font-weight="bold" text-anchor="end" >0.50</text>
<line x1="826.25" y1="1193.67" x2="833.40" y2="1193.67" stroke="#2c2c2c" stroke-width="1.1"/>
<text x="823.10" y="1203.07" font-size="24.7" font-weight="bold" text-anchor="end" >0.25</text>
<line x1="826.25" y1="1280.50" x2="833.40" y2="1280.50" stroke="#2c2c2c" stroke-width="1.1"/>
<text x="823.10" y="1289.90" font-size="24.7" font-weight="bold" text-anchor="end" >0.00</text>
<line x1="826.50" y1="1280.50" x2="1381.40" y2="1280.50" stroke="#2c2c2c" stroke-width="1.1"/>
<line x1="863.50" y1="1280.50" x2="863.50" y2="1287.50" stroke="#2c2c2c" stroke-width="1.1"/>
<line x1="924.50" y1="1280.50" x2="924.50" y2="1287.50" stroke="#2c2c2c" stroke-width="1.1"/>
<line x1="1005.40" y1="1280.50" x2="1005.40" y2="1287.50" stroke="#2c2c2c" stroke-width="1.1"/>
<line x1="1066.20" y1="1280.50" x2="1066.20" y2="1287.50" stroke="#2c2c2c" stroke-width="1.1"/>
<line x1="1147.10" y1="1280.50" x2="1147.10" y2="1287.50" stroke="#2c2c2c" stroke-width="1.1"/>
<line x1="1207.80" y1="1280.50" x2="1207.80" y2="1287.50" stroke="#2c2c2c" stroke-width="1.1"/>
<line x1="1288.70" y1="1280.50" x2="1288.70" y2="1287.50" stroke="#2c2c2c" stroke-width="1.1"/>
<line x1="1349.60" y1="1280.50" x2="1349.60" y2="1287.50" stroke="#2c2c2c" stroke-width="1.1"/>
<line x1="863.70" y1="823.25" x2="863.70" y2="933.00" stroke="#2c2c2c" stroke-width="1.1"/>
<line x1="853.30" y1="823.25" x2="874.10" y2="823.25" stroke="#2c2c2c" stroke-width="1.1"/>
<rect x="843.00" y="933.00" width="41.40" height="347.50" fill="#000"/>
<line x1="924.20" y1="1269.60" x2="924.20" y2="1272.20" stroke="#2c2c2c" stroke-width="1.1"/>
<line x1="913.80" y1="1269.60" x2="934.60" y2="1269.60" stroke="#2c2c2c" stroke-width="1.1"/>
<line x1="903.60" y1="1272.75" x2="944.80" y2="1272.75" stroke="#2c2c2c" stroke-width="1.1"/>
<line x1="904.15" y1="1272.20" x2="904.15" y2="1280.50" stroke="#2c2c2c" stroke-width="1.1"/>
<line x1="944.25" y1="1272.20" x2="944.25" y2="1280.50" stroke="#2c2c2c" stroke-width="1.1"/>
<line x1="1005.50" y1="888.00" x2="1005.50" y2="941.00" stroke="#2c2c2c" stroke-width="1.1"/>
<line x1="995.10" y1="888.00" x2="1015.90" y2="888.00" stroke="#2c2c2c" stroke-width="1.1"/>
<rect x="985.00" y="941.00" width="41.00" height="339.50" fill="#000"/>
<line x1="1045.80" y1="1276.85" x2="1086.90" y2="1276.85" stroke="#2c2c2c" stroke-width="1.1"/>
<line x1="1046.35" y1="1276.30" x2="1046.35" y2="1280.50" stroke="#2c2c2c" stroke-width="1.1"/>
<line x1="1086.35" y1="1276.30" x2="1086.35" y2="1280.50" stroke="#2c2c2c" stroke-width="1.1"/>
<line x1="1147.25" y1="986.60" x2="1147.25" y2="1050.50" stroke="#2c2c2c" stroke-width="1.1"/>
<line x1="1136.85" y1="986.60" x2="1157.65" y2="986.60" stroke="#2c2c2c" stroke-width="1.1"/>
<rect x="1126.40" y="1050.50" width="41.70" height="230.00" fill="#000"/>
<line x1="1208.15" y1="1272.80" x2="1208.15" y2="1274.40" stroke="#2c2c2c" stroke-width="1.1"/>
<line x1="1197.75" y1="1272.80" x2="1218.55" y2="1272.80" stroke="#2c2c2c" stroke-width="1.1"/>
<line x1="1187.60" y1="1274.95" x2="1228.70" y2="1274.95" stroke="#2c2c2c" stroke-width="1.1"/>
<line x1="1188.15" y1="1274.40" x2="1188.15" y2="1280.50" stroke="#2c2c2c" stroke-width="1.1"/>
<line x1="1228.15" y1="1274.40" x2="1228.15" y2="1280.50" stroke="#2c2c2c" stroke-width="1.1"/>
<line x1="1289.50" y1="952.60" x2="1289.50" y2="1065.50" stroke="#2c2c2c" stroke-width="1.1"/>
<line x1="1279.10" y1="952.60" x2="1299.90" y2="952.60" stroke="#2c2c2c" stroke-width="1.1"/>
<rect x="1268.80" y="1065.50" width="41.40" height="215.00" fill="#000"/>
<line x1="1329.80" y1="1273.35" x2="1370.80" y2="1273.35" stroke="#2c2c2c" stroke-width="1.1"/>
<line x1="1330.35" y1="1272.80" x2="1330.35" y2="1280.50" stroke="#2c2c2c" stroke-width="1.1"/>
<line x1="1370.25" y1="1272.80" x2="1370.25" y2="1280.50" stroke="#2c2c2c" stroke-width="1.1"/>
<text x="871.22" y="1313.00" font-size="24.5" font-weight="bold" letter-spacing="0.118" >Ctrl</text>
<text x="1006.98" y="1313.40" font-size="24.5" font-weight="bold" letter-spacing="0.000" >IFN</text>
<text x="1045.60" y="1313.40" font-size="25.23" font-family="Liberation Serif, serif" style="font-family:'Liberation Serif',serif">γ</text>
<text x="1155.26" y="1313.10" font-size="24.5" font-weight="bold" letter-spacing="-0.275" >TNF</text>
<text x="1299.69" y="1313.10" font-size="24.5" font-weight="bold" letter-spacing="0.082" >LPS</text>
<text transform="translate(761.90,1193.91) rotate(-90) scale(1.0526,1)" font-size="23.27" letter-spacing="-0.985" font-weight="bold">RAGE</text>
<text transform="translate(761.90,1118.38) rotate(-90) scale(1.0526,1)" font-size="23.27" letter-spacing="0.400" font-weight="bold">expression</text>
<text transform="translate(761.90,981.33) rotate(-90) scale(1.0526,1)" font-size="23.27" letter-spacing="0.208" font-weight="bold">(Rel.</text>
<text transform="translate(761.90,920.14) rotate(-90) scale(1.0526,1)" font-size="23.27" letter-spacing="-1.335" font-weight="bold">to</text>
<text transform="translate(761.90,885.78) rotate(-90) scale(1.0526,1)" font-size="23.27" letter-spacing="0.095" font-weight="bold">ctrl)</text>
</svg>
</body></html>
